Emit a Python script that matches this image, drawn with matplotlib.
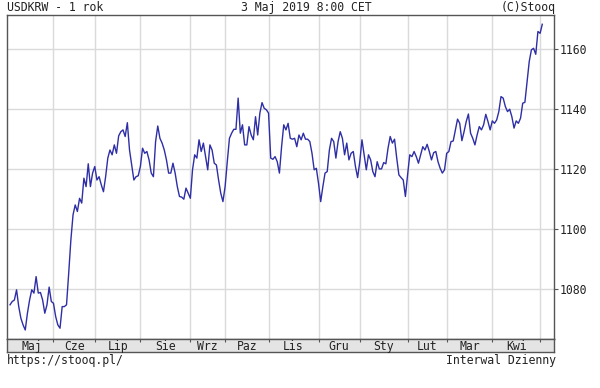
import numpy as np
import matplotlib.pyplot as plt

# USDKRW daily close, one value per session
close = [
    1074.7, 1075.8, 1076.3, 1079.7, 1074.1, 1070.2, 1068.0, 1066.3, 1071.9, 1076.3,
    1079.7, 1078.6, 1084.1, 1078.6, 1078.8, 1076.3, 1071.9, 1074.7, 1080.6, 1075.8,
    1075.2, 1070.8, 1068.0, 1066.9, 1074.1, 1074.1, 1074.7, 1085.2, 1096.3, 1104.7,
    1108.0, 1105.8, 1110.2, 1108.6, 1116.9, 1114.1, 1121.7, 1114.1, 1118.6, 1120.8,
    1116.3, 1117.4, 1114.7, 1112.4, 1117.4, 1123.6, 1126.3, 1124.7, 1128.0, 1125.2,
    1131.0, 1132.4, 1133.0, 1130.8, 1135.4, 1126.3, 1121.3, 1116.3, 1117.4, 1117.7,
    1120.8, 1126.9, 1125.2, 1125.8, 1123.0, 1118.6, 1117.4, 1129.1, 1134.3, 1130.2,
    1128.6, 1126.3, 1123.0, 1118.6, 1118.6, 1121.9, 1118.6, 1114.1, 1110.8, 1110.6,
    1109.9, 1113.6, 1111.9, 1110.2,
    1119.7, 1124.7, 1123.6, 1129.7, 1125.8, 1128.6, 1124.1, 1119.7, 1128.0, 1126.3,
    1121.9, 1121.3, 1116.3, 1111.9, 1109.1, 1114.1, 1122.4, 1130.2, 1131.9, 1133.2,
    1133.2, 1143.6, 1131.9, 1134.7, 1128.0, 1128.0, 1134.1, 1131.3, 1129.7, 1137.4,
    1131.3, 1138.6, 1142.1, 1140.2, 1139.7, 1138.6, 1123.6, 1123.2, 1124.1, 1122.4,
    1118.6,
    1127.4, 1134.7, 1133.0, 1135.2, 1130.2, 1129.9, 1130.2, 1127.4, 1131.3, 1129.7,
    1131.9, 1129.9, 1129.9, 1129.1, 1125.2, 1119.7, 1120.2, 1115.2, 1109.1, 1114.1,
    1118.6, 1119.1, 1126.3, 1130.2, 1129.1, 1123.6, 1129.1, 1132.4, 1130.2, 1124.7,
    1128.6, 1123.0, 1125.2, 1125.8, 1120.8, 1117.1, 1122.4, 1129.7, 1124.7, 1119.7,
    1124.7, 1123.0, 1119.1, 1117.4,
    1122.4, 1120.0, 1120.0, 1122.1, 1121.7, 1126.9, 1130.8, 1128.6, 1129.9, 1123.6,
    1118.0, 1117.1, 1116.3, 1110.8, 1118.0, 1124.7, 1124.1, 1125.8, 1124.1, 1121.9,
    1124.7, 1127.4, 1126.3, 1128.2, 1125.8, 1123.0, 1125.4, 1125.8, 1122.4, 1120.2,
    1118.6, 1119.7, 1125.2, 1125.8, 1129.1, 1129.3, 1133.0, 1136.6, 1135.2, 1129.4,
    1132.4, 1135.8, 1138.3,
    1131.9, 1130.2, 1128.0, 1131.3, 1134.1, 1133.0, 1134.7, 1138.2, 1135.8, 1133.0,
    1136.0, 1135.2, 1136.3, 1139.1, 1144.1, 1143.6, 1140.8, 1139.1, 1139.9, 1137.4,
    1133.6, 1136.0, 1135.2, 1136.9, 1141.9, 1142.2, 1149.1, 1155.8, 1159.7, 1160.2,
    1158.2, 1165.8, 1165.2, 1168.2,
]

months = ['Maj', 'Cze', 'Lip', 'Sie', 'Wrz', 'Paz', 'Lis', 'Gru', 'Sty', 'Lut', 'Mar', 'Kwi']
# session index where each new month starts
month_start = [20, 39, 60, 83, 99, 119, 142, 161, 183, 201, 222, 244]
yticks = [1080, 1100, 1120, 1140, 1160]

title_left = 'USDKRW - 1 rok'
title_mid = '3 Maj 2019 8:00 CET'
title_right = '(C)Stooq'
foot_left = 'https://stooq.pl/'
foot_right = 'Interwal Dzienny'

W, H = 600, 388
fig = plt.figure(figsize=(W / 100, H / 100), dpi=100)
plt.rcParams['font.family'] = 'DejaVu Sans Mono'
fs = 8.3
ink = '#222222'

x0, x1 = 7, 554
ytop, ybot, yband = 15, 339, 352
ax = fig.add_axes([x0 / W, 1 - ybot / H, (x1 - x0) / W, (ybot - ytop) / H])

sess = np.arange(len(close))
ax.plot(sess, close, color='#2e2ea6', lw=1.0)

ax.set_xlim(-1.4, 250.4)
ax.set_ylim(1063.3, 1171.3)
ax.set_yticks(yticks)
ax.set_xticks(month_start)
ax.xaxis.set_ticklabels([])
ax.tick_params(axis='x', length=0)
ax.yaxis.tick_right()
ax.tick_params(axis='y', direction='out', length=3, width=0.8, color='#555555',
               labelsize=fs, labelcolor=ink, pad=1)
ax.grid(True, color='#dadada', lw=1)
ax.set_axisbelow(True)
for s in ax.spines.values():
    s.set_color('#555555')
    s.set_linewidth(1)

# month band below plot
band = fig.add_axes([x0 / W, 1 - yband / H, (x1 - x0) / W, (yband - ybot) / H])
band.set_facecolor('#e4e4e4')
band.set_xlim(ax.get_xlim())
band.set_ylim(0, 1)
band.set_yticks([])
band.set_xticks(month_start)
band.xaxis.set_ticklabels([])
band.tick_params(axis='x', bottom=False, top=True, direction='in', length=2.5,
                 width=0.8, color='#555555')
for s in band.spines.values():
    s.set_color('#555555')
    s.set_linewidth(1)
bounds = [0] + month_start
for i, m in enumerate(months):
    band.text((bounds[i] + bounds[i + 1]) / 2, 0.45, m, ha='center', va='center',
              fontsize=fs, color=ink)

fig.text(x0 / W, 1 - 11 / H, title_left, ha='left', va='baseline', fontsize=fs, color=ink)
fig.text(306 / W, 1 - 11 / H, title_mid, ha='center', va='baseline', fontsize=fs, color=ink)
fig.text(556 / W, 1 - 11 / H, title_right, ha='right', va='baseline', fontsize=fs, color=ink)
fig.text(x0 / W, 1 - 364 / H, foot_left, ha='left', va='baseline', fontsize=fs, color=ink)
fig.text(556 / W, 1 - 364 / H, foot_right, ha='right', va='baseline', fontsize=fs, color=ink)

fig.savefig('out.png', dpi=100)
